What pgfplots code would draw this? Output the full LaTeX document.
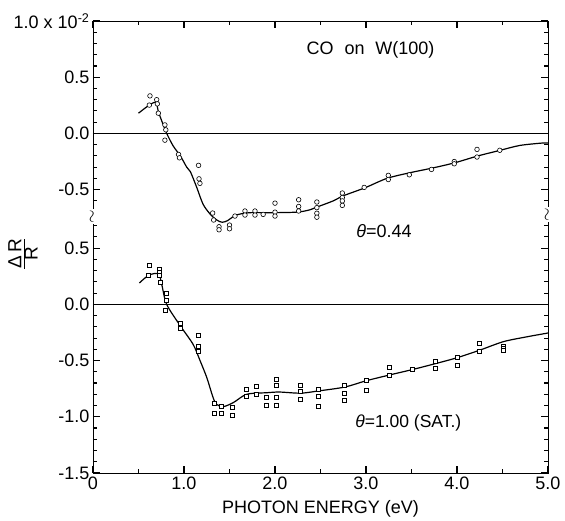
\documentclass[border=0pt]{standalone}
\usepackage{fontspec}
\setmainfont{Liberation Sans}
\usepackage{pgfplots}
\pgfplotsset{compat=1.18}
\usepackage{pgfplotstable}

% theta = 0.44 (upper panel), values in units of 1e-2
\pgfplotstableread{
x y
0.50 0.18
0.615 0.25
0.69 0.275
0.72 0.19
0.77 0.08
0.81 0.0
0.88 -0.11
0.96 -0.20
1.03 -0.30
1.07 -0.34
1.14 -0.48
1.21 -0.63
1.29 -0.72
1.36 -0.77
1.42 -0.79
1.48 -0.775
1.54 -0.74
1.60 -0.72
1.72 -0.705
1.95 -0.705
2.24 -0.70
2.38 -0.68
2.46 -0.655
2.64 -0.60
2.75 -0.555
2.99 -0.483
3.23 -0.40
3.48 -0.35
3.74 -0.306
3.98 -0.26
4.23 -0.20
4.47 -0.151
4.69 -0.107
4.93 -0.086
5.00 -0.085
}\topcurve

\pgfplotstableread{
x y
0.626 0.334
0.619 0.252
0.700 0.300
0.707 0.263
0.718 0.180
0.790 0.076
0.800 0.032
0.790 -0.060
0.940 -0.187
0.950 -0.217
1.160 -0.284
1.165 -0.404
1.175 -0.444
1.315 -0.708
1.326 -0.770
1.385 -0.830
1.385 -0.857
1.500 -0.815
1.500 -0.848
1.560 -0.735
1.670 -0.690
1.670 -0.726
1.780 -0.690
1.780 -0.726
1.870 -0.720
2.000 -0.620
2.000 -0.700
2.000 -0.735
2.260 -0.590
2.260 -0.650
2.260 -0.690
2.460 -0.610
2.460 -0.660
2.460 -0.710
2.460 -0.745
2.740 -0.530
2.740 -0.570
2.740 -0.600
2.740 -0.640
2.980 -0.480
3.245 -0.373
3.245 -0.410
3.476 -0.368
3.720 -0.320
3.970 -0.250
3.970 -0.270
4.220 -0.142
4.220 -0.210
4.470 -0.150
}\topdata

% theta = 1.00 (SAT.) (lower panel)
\pgfplotstableread{
x y
0.51 0.19
0.615 0.26
0.72 0.27
0.755 0.178
0.81 0.0
0.95 -0.18
1.10 -0.356
1.176 -0.50
1.25 -0.65
1.32 -0.83
1.36 -0.89
1.43 -0.91
1.54 -0.875
1.69 -0.80
1.91 -0.786
2.05 -0.78
2.28 -0.79
2.48 -0.77
2.77 -0.735
3.00 -0.68
3.26 -0.628
3.51 -0.58
3.76 -0.528
4.00 -0.475
4.245 -0.409
4.51 -0.332
4.76 -0.29
5.00 -0.255
}\botcurve

\pgfplotstableread{
x y
0.623 0.349
0.612 0.260
0.725 0.316
0.725 0.287
0.725 0.260
0.740 0.200
0.810 0.094
0.810 0.035
0.800 -0.053
0.960 -0.166
0.960 -0.217
1.154 -0.273
1.154 -0.377
1.154 -0.421
1.333 -0.877
1.333 -0.966
1.407 -0.904
1.407 -0.972
1.527 -0.913
1.527 -0.984
1.690 -0.759
1.690 -0.818
1.795 -0.732
1.795 -0.800
1.900 -0.824
1.900 -0.895
2.010 -0.667
2.010 -0.720
2.010 -0.824
2.010 -0.895
2.280 -0.720
2.280 -0.770
2.280 -0.845
2.480 -0.756
2.480 -0.815
2.480 -0.904
2.766 -0.720
2.766 -0.795
2.766 -0.853
3.000 -0.679
3.000 -0.768
3.256 -0.557
3.256 -0.631
3.506 -0.581
3.758 -0.504
3.758 -0.569
4.000 -0.471
4.000 -0.546
4.245 -0.350
4.245 -0.415
4.510 -0.370
4.510 -0.390
4.510 -0.406
}\botdata

\begin{document}
\begin{tikzpicture}
\useasboundingbox (-93pt,-48pt) rectangle (472pt,473pt);
\begin{axis}[
  at={(0pt,0pt)}, anchor=south west,
  scale only axis, width=455pt, height=452pt,
  xmin=0, xmax=5, ymin=-1.5, ymax=2.52,
  axis on top,
  tick align=inside,
  major tick length=7pt, minor tick length=4pt,
  every tick/.append style={black, line width=1.1pt},
  xtick={0,1,2,3,4,5}, xticklabels={0,1.0,2.0,3.0,4.0,5.0},
  minor xtick={0.5,1.5,2.5,3.5,4.5},
  ytick={-1.5,-1,-0.5,0,0.5,1.02,1.52,2.02,2.52},
  yticklabels={-1.5,-1.0,-0.5,0.0,0.5,-0.5,0.0,0.5,{1.0 x 10\textsuperscript{-2}}},
  minor ytick={-1.4,-1.3,-1.2,-1.1,-0.9,-0.8,-0.7,-0.6,-0.4,-0.3,-0.2,-0.1,0.1,0.2,0.3,0.4,0.6,0.7,
               0.82,0.92,1.12,1.22,1.32,1.42,1.62,1.72,1.82,1.92,2.12,2.22,2.32,2.42},
  tick label style={font=\fontsize{18}{19}\selectfont},
  xlabel={PHOTON ENERGY (eV)},
  xlabel style={font=\fontsize{18}{20}\selectfont, at={(axis description cs:0.5,-0.08)}, anchor=center},
  ylabel={$\frac{\mbox{Δ\,R}}{\mbox{R}}$},
  ylabel style={font=\fontsize{19}{20}\selectfont, at={(axis description cs:-0.154,0.4845)}, anchor=center},
]
\addplot[black, line width=0.7pt] coordinates {(0,1.52) (5,1.52)};
\addplot[black, line width=0.7pt] coordinates {(0,0) (5,0)};
\addplot[black, line width=1.2pt, smooth, tension=0.5] table[x=x, y expr=\thisrow{y}+1.52] {\topcurve};
\addplot[black, line width=1.2pt, smooth, tension=0.5] table[x=x, y=y] {\botcurve};
\addplot[only marks, mark=*, mark size=2.3pt, mark options={draw=black, fill=white, line width=0.6pt}] table[x=x, y expr=\thisrow{y}+1.52] {\topdata};
\addplot[only marks, mark=square*, mark size=2pt, mark options={draw=black, fill=white, line width=0.6pt}] table[x=x, y=y] {\botdata};
\node[font=\fontsize{18}{20}\selectfont] at (axis cs:3.05,2.267) {CO\hspace{0.6em}on\hspace{0.6em}W(100)};
\node[font=\fontsize{18}{20}\selectfont] at (axis cs:3.198,0.648) {\textit{θ}=0.44};
\node[font=\fontsize{17.5}{20}\selectfont] at (axis cs:3.465,-1.052) {\textit{θ}=1.00 (SAT.)};
\coordinate (bl) at (axis cs:0,0.78);
\coordinate (br) at (axis cs:5,0.80);
\end{axis}
\draw[line width=0.9pt] (0pt,0pt) rectangle (455pt,452pt);
% tick marks (inside, both sides)
\foreach \v in {-1.5,-1,-0.5,0,0.5,1.02,1.52,2.02,2.52} {
  \draw[line width=1.1pt] (0pt,{(\v+1.5)*112.4378pt}) -- ++(7pt,0pt);
  \draw[line width=1.1pt] (455pt,{(\v+1.5)*112.4378pt}) -- ++(-7pt,0pt);
}
\foreach \v in {-1.4,-1.3,-1.2,-1.1,-0.9,-0.8,-0.7,-0.6,-0.4,-0.3,-0.2,-0.1,0.1,0.2,0.3,0.4,0.6,0.7,0.82,0.92,1.12,1.22,1.32,1.42,1.62,1.72,1.82,1.92,2.12,2.22,2.32,2.42} {
  \draw[line width=1pt] (0pt,{(\v+1.5)*112.4378pt}) -- ++(4pt,0pt);
  \draw[line width=1pt] (455pt,{(\v+1.5)*112.4378pt}) -- ++(-4pt,0pt);
}
\foreach \v in {1,2,3,4} {
  \draw[line width=1.1pt] ({\v*91pt},0pt) -- ++(0pt,7pt);
  \draw[line width=1.1pt] ({\v*91pt},452pt) -- ++(0pt,-7pt);
}
\foreach \v in {0.5,1.5,2.5,3.5,4.5} {
  \draw[line width=1pt] ({\v*91pt},0pt) -- ++(0pt,4pt);
  \draw[line width=1pt] ({\v*91pt},452pt) -- ++(0pt,-4pt);
}
\foreach \c in {bl,br}
  \node[fill=white, inner sep=0.8pt, rotate=90, font=\fontsize{17}{17}\selectfont] at (\c) {$\sim$};
\end{tikzpicture}
\end{document}
